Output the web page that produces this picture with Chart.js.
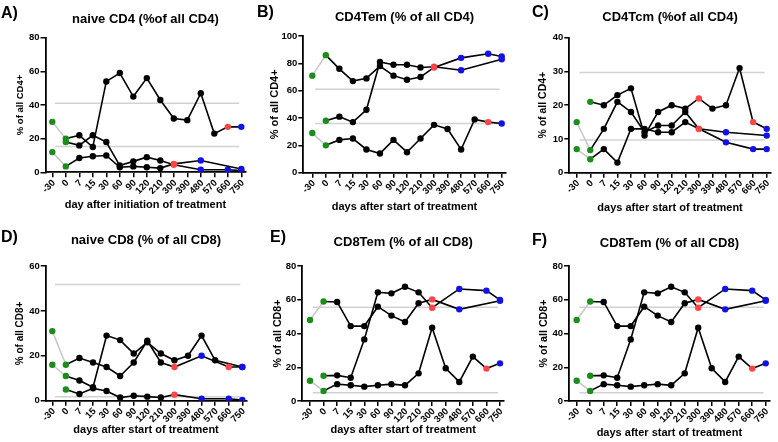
<!DOCTYPE html>
<html lang="en">
<head>
<meta charset="UTF-8" />
<title>T cell subsets over treatment</title>
<script src="https://cdn.jsdelivr.net/npm/chart.js"></script>
<style>
  body { margin: 0; background: #fff; }
  #fig { position: relative; width: 778px; height: 442px; overflow: hidden; background: #fff; }
  #fig canvas { position: absolute; }
  .tag { position: absolute; font: bold 16px 'Liberation Sans', Arial, sans-serif; color: #000; }
</style>
</head>
<body>
<div id="fig">
  <canvas id="chartA" width="255" height="220" style="left:0px;top:0px"></canvas>
  <canvas id="chartB" width="258" height="220" style="left:255px;top:0px"></canvas>
  <canvas id="chartC" width="263" height="220" style="left:515px;top:0px"></canvas>
  <canvas id="chartD" width="255" height="222" style="left:0px;top:220px"></canvas>
  <canvas id="chartE" width="258" height="222" style="left:255px;top:220px"></canvas>
  <canvas id="chartF" width="263" height="222" style="left:515px;top:220px"></canvas>
  <div class="tag" style="left:1px;top:4px">A)</div>
  <div class="tag" style="left:257px;top:3px">B)</div>
  <div class="tag" style="left:532px;top:3px">C)</div>
  <div class="tag" style="left:1px;top:228px">D)</div>
  <div class="tag" style="left:270px;top:228px">E)</div>
  <div class="tag" style="left:532px;top:231px">F)</div>
</div>

<script>
  const days = ['-30', '0', '7', '15', '30', '60', '90', '120', '210', '300', '390', '480', '570', '660', '750'];

  // A) naive CD4, three patients (null = not measured)
  const naiveCD4_p1 = [30, 20, 22, 15, 54, 59, 45, 56, 43, 32, 31, 47, 23, 27, 27];
  const naiveCD4_p2 = [12, 3.5, 8.5, 9.5, 10, 3, 3.5, 3, 2.5, 5, null, 7, null, null, 2];
  const naiveCD4_p3 = [null, 18, 16, 22, 18, 4, 6.5, 9, 7, 4.5, null, 1.5, null, 1.5, 1];
  const naiveCD4_red = [[13], [9], [9]];
  const naiveCD4_blue = [[14], [11, 14], [11, 13]];
  const naiveCD4_ref = [41, 15.3];

  // B) CD4 Tem
  const cd4Tem_p1 = [71, 86, 76, 67, 69, 78, 71, 68, 70, 77, null, 84, null, 87, 85];
  const cd4Tem_p2 = [null, 38, 41, 37, 46, 81, 79, 79, 77, 77.5, null, 75, null, null, 83];
  const cd4Tem_p3 = [29, 20, 24, 25, 17, 14, 24, 15, 25, 35, 32, 17, 39, 37, 36];
  const cd4Tem_red = [[9], [9], [13]];
  const cd4Tem_blue = [[11, 13, 14], [11, 14], [14]];
  const cd4Tem_ref = [61, 36];

  // C) CD4 Tcm
  const cd4Tcm_p1 = [null, 21, 20, 23, 25, 11, 18, 20, 19, 22, 19, 20, 31, 15, 13];
  const cd4Tcm_p2 = [15, 6.7, 13, 21, 18, 12, 14, 14, 18, 13, null, 12, null, null, 11];
  const cd4Tcm_p3 = [7, 4, 7, 3, 13, 13, 12, 12, 15, 13, null, 9, null, 7, 7];
  const cd4Tcm_red = [[9, 13], [9], [9]];
  const cd4Tcm_blue = [[14], [11, 14], [11, 13, 14]];
  const cd4Tcm_ref = [29.7, 9.7];

  // D) naive CD8
  const naiveCD8_p1 = [31, 16, 19, 17, 15, 11, 17, 26.7, 17, 15, null, 20, null, 15, 15];
  const naiveCD8_p2 = [16, 11, 9, 6, 29, 27, 21, 26, 21, 18, 20, 29, 18, null, 15];
  const naiveCD8_p3 = [null, 5, 3, 5.5, 4.3, 1.4, 2.2, 1.8, 1.4, 2.7, null, 0.9, null, 0.9, 0.3];
  const naiveCD8_red = [[9, 13], [], [9]];
  const naiveCD8_blue = [[11, 14], [14], [11, 13, 14]];
  const naiveCD8_ref = [51.8, 1.8];

  // E) and F) CD8 Tem (the figure shows the same panel twice)
  const cd8Tem_p1 = [48, 59, 58.7, 44.4, 44.4, 55.9, 50.6, 46.8, 57.9, 60.2, null, 54.3, null, null, 59.4];
  const cd8Tem_p2 = [null, 15, 15.2, 13.8, 36.5, 64.4, 63.8, 67.7, 64.4, 55.3, null, 66.4, null, 65.4, 59.9];
  const cd8Tem_p3 = [12, 6, 10, 9.3, 8.5, 9.3, 10, 9.3, 16.4, 43.4, 19.4, 11.3, 26.3, 19.2, 22.3];
  const cd8Tem_red = [[9], [9], [13]];
  const cd8Tem_blue = [[11, 14], [11, 13, 14], [14]];
  const cd8Tem_ref = [55.6, 4.9];

  const FONT = "'Liberation Sans', Arial, sans-serif";
  const GREEN = '#1c8c1c', RED = '#ff4545', BLUE = '#1212e8', GRAY = '#c9c9c9', REFGRAY = '#d2d2d2';

  // pixel layout of each panel inside the 778x442 figure
  const boxes = {
    A: { left: 0, top: 0, w: 255, h: 220, axisX: 45.5, x0: 52.3, x14: 241.3, yTop: 37.7, yBot: 172.3, titleY: 19, yTitleX: 20, yTitleSize: 9.5, xTitleY: 205 },
    B: { left: 255, top: 0, w: 258, h: 220, axisX: 303.3, x0: 312.3, x14: 501.7, yTop: 36, yBot: 172.7, titleY: 17, yTitleX: 275, yTitleSize: 11, xTitleY: 206.5 },
    C: { left: 515, top: 0, w: 263, h: 220, axisX: 569.3, x0: 576.7, x14: 766.7, yTop: 37.7, yBot: 172.7, titleY: 17.5, yTitleX: 543, yTitleSize: 10.5, xTitleY: 208 },
    D: { left: 0, top: 220, w: 255, h: 222, axisX: 45.7, x0: 52.3, x14: 242.3, yTop: 266, yBot: 400.7, titleY: 240, yTitleX: 20, yTitleSize: 10, xTitleY: 430 },
    E: { left: 255, top: 220, w: 258, h: 222, axisX: 302.3, x0: 310, x14: 500, yTop: 266, yBot: 401, titleY: 242, yTitleX: 278, yTitleSize: 10.7, xTitleY: 430 },
    F: { left: 515, top: 220, w: 263, h: 222, axisX: 569, x0: 576.7, x14: 765.7, yTop: 266, yBot: 401, titleY: 243, yTitleX: 544, yTitleSize: 10.7, xTitleY: 433 }
  };

  function drawPanel(key, title, xTitle, yTitle, yMax, yStep, series, reds, blues, refs) {
    const g = boxes[key];
    const step = (g.x14 - g.x0) / 14;
    const xMin = -(g.x0 - g.axisX) / step;
    const xMax = 14.3;
    const rightPx = g.x14 + 0.3 * step;

    const datasets = [];
    refs.forEach(r => {
      datasets.push({
        data: [{ x: 0.2, y: r }, { x: 13.85, y: r }],
        borderColor: REFGRAY, borderWidth: 1.5, pointRadius: 0, order: 5
      });
    });
    series.forEach((vals, s) => {
      const pts = [];
      vals.forEach((v, i) => { if (v !== null) pts.push({ x: i, y: v }); });
      const cols = pts.map(p => p.x < 2 ? GREEN : reds[s].includes(p.x) ? RED : blues[s].includes(p.x) ? BLUE : '#000');
      datasets.push({
        data: pts,
        borderColor: '#000',
        borderWidth: 1.6,
        pointRadius: 3.2,
        pointBorderWidth: 0,
        pointBackgroundColor: cols,
        pointBorderColor: cols,
        segment: { borderColor: c => c.p0.parsed.x === 0 ? GRAY : '#000' },
        order: 1
      });
    });

    const titleTop = (g.titleY - g.top) - 7.8;
    const titleBottom = (g.yTop - g.top) - 15.6 - titleTop;
    const yHalf = g.yTitleSize * 0.6;
    const axisStyle = {
      display: true, drawOnChartArea: false, drawTicks: true,
      tickLength: 5, color: '#000', lineWidth: 1.5
    };

    new Chart(document.getElementById('chart' + key), {
      type: 'line',
      data: { datasets },
      options: {
        responsive: false,
        animation: false,
        devicePixelRatio: 1,
        layout: { padding: { left: 0, top: 0, bottom: 0, right: g.w - (rightPx - g.left) } },
        plugins: {
          legend: { display: false },
          tooltip: { enabled: false },
          title: {
            display: true, text: title, color: '#000', fullSize: false,
            font: { family: FONT, size: 13, weight: 'bold', lineHeight: 1.2 },
            padding: { top: titleTop, bottom: titleBottom }
          }
        },
        scales: {
          x: {
            type: 'linear', min: xMin, max: xMax,
            border: { display: true, color: '#000', width: 1.8 },
            grid: axisStyle,
            ticks: {
              stepSize: 1, autoSkip: false, includeBounds: false,
              minRotation: 45, maxRotation: 45, padding: 0, labelOffset: 1.5, color: '#000',
              font: { family: FONT, size: 9.5, weight: 'bold' },
              callback: v => days[v]
            },
            title: {
              display: true, text: xTitle, color: '#000',
              font: { family: FONT, size: 11, weight: 'bold', lineHeight: 1.2 },
              padding: { top: 0, bottom: (g.top + g.h) - g.xTitleY - 6.6 }
            },
            afterFit: s => { s.height = (g.top + g.h) - g.yBot; }
          },
          y: {
            type: 'linear', min: 0, max: yMax,
            border: { display: true, color: '#000', width: 1.8 },
            grid: axisStyle,
            ticks: {
              stepSize: yStep, padding: 1, color: '#000',
              font: { family: FONT, size: 9.5, weight: 'bold' }
            },
            title: {
              display: true, text: yTitle, color: '#000',
              font: { family: FONT, size: g.yTitleSize, weight: 'bold', lineHeight: 1.2 },
              padding: { top: (g.yTitleX - g.left) - yHalf, bottom: 0 }
            },
            afterFit: s => { s.width = g.axisX - g.left; }
          }
        }
      }
    });
  }

  drawPanel('A', 'naive CD4 (%of all CD4)', 'day after initiation of treatment', '% of all CD4+', 80, 20,
    [naiveCD4_p1, naiveCD4_p2, naiveCD4_p3], naiveCD4_red, naiveCD4_blue, naiveCD4_ref);
  drawPanel('B', 'CD4Tem (% of all CD4)', 'days after start of treatment', '% of all CD4+', 100, 20,
    [cd4Tem_p1, cd4Tem_p2, cd4Tem_p3], cd4Tem_red, cd4Tem_blue, cd4Tem_ref);
  drawPanel('C', 'CD4Tcm (%of all CD4)', 'days after start of treatment', '% of all CD4+', 40, 10,
    [cd4Tcm_p1, cd4Tcm_p2, cd4Tcm_p3], cd4Tcm_red, cd4Tcm_blue, cd4Tcm_ref);
  drawPanel('D', 'naive CD8 (% of all CD8)', 'days after start of treatment', '% of all CD8+', 60, 20,
    [naiveCD8_p1, naiveCD8_p2, naiveCD8_p3], naiveCD8_red, naiveCD8_blue, naiveCD8_ref);
  drawPanel('E', 'CD8Tem (% of all CD8)', 'days after start of treatment', '% of all CD8+', 80, 20,
    [cd8Tem_p1, cd8Tem_p2, cd8Tem_p3], cd8Tem_red, cd8Tem_blue, cd8Tem_ref);
  drawPanel('F', 'CD8Tem (% of all CD8)', 'days after start of treatment', '% of all CD8+', 80, 20,
    [cd8Tem_p1, cd8Tem_p2, cd8Tem_p3], cd8Tem_red, cd8Tem_blue, cd8Tem_ref);
</script>
</body>
</html>
